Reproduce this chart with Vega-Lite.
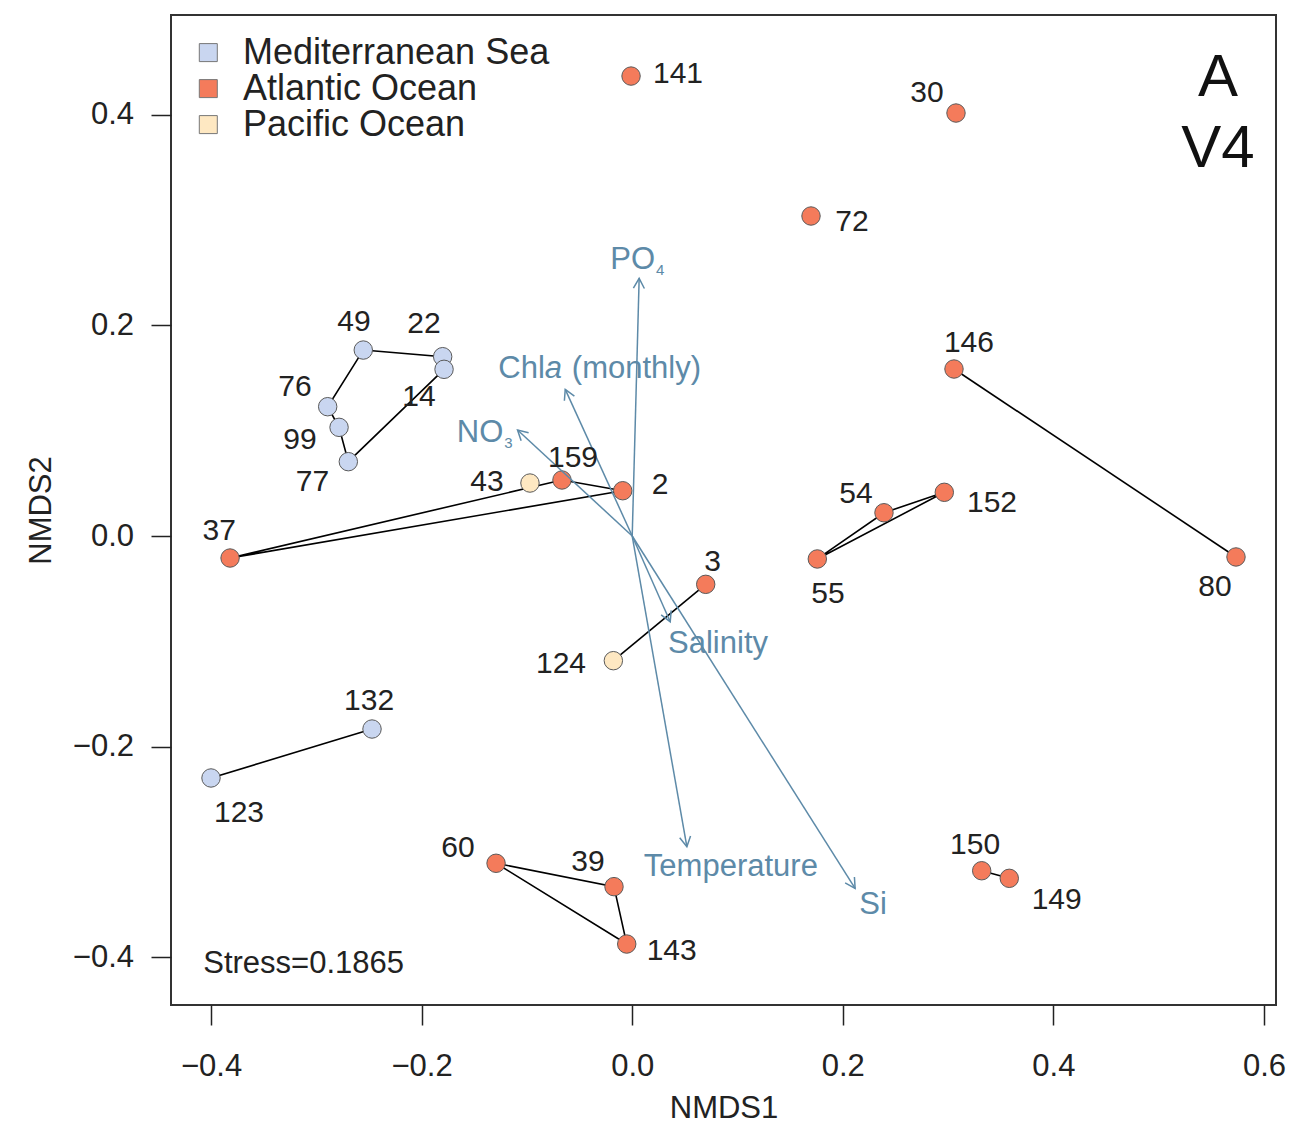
{
  "$schema": "https://vega.github.io/schema/vega-lite/v6.json",
  "width": 1105,
  "height": 990,
  "autosize": {"type": "none"},
  "padding": {"left": 171, "top": 15, "right": 16, "bottom": 120},
  "background": "white",
  "config": {
    "view": {"stroke": "#333", "strokeWidth": 2},
    "font": "Liberation Sans",
    "axis": {
      "domain": false,
      "grid": false,
      "tickColor": "#222",
      "tickWidth": 1.5,
      "tickSize": 20,
      "labelFont": "Liberation Sans",
      "labelFontSize": 31,
      "labelColor": "#222",
      "titleFont": "Liberation Sans",
      "titleFontSize": 31,
      "titleFontWeight": "normal",
      "titleColor": "#222",
      "labelOverlap": false,
      "labelFlush": false
    }
  },
  "datasets": {
    "sites": [
      {"site": 141, "region": "Atlantic Ocean", "NMDS1": -0.0011, "NMDS2": 0.4368},
      {"site": 30, "region": "Atlantic Ocean", "NMDS1": 0.3075, "NMDS2": 0.4017},
      {"site": 72, "region": "Atlantic Ocean", "NMDS1": 0.1698, "NMDS2": 0.3039},
      {"site": 146, "region": "Atlantic Ocean", "NMDS1": 0.3056, "NMDS2": 0.1586},
      {"site": 80, "region": "Atlantic Ocean", "NMDS1": 0.5734, "NMDS2": -0.0199},
      {"site": 152, "region": "Atlantic Ocean", "NMDS1": 0.2964, "NMDS2": 0.0415},
      {"site": 54, "region": "Atlantic Ocean", "NMDS1": 0.2391, "NMDS2": 0.0221},
      {"site": 55, "region": "Atlantic Ocean", "NMDS1": 0.1758, "NMDS2": -0.0218},
      {"site": 3, "region": "Atlantic Ocean", "NMDS1": 0.0698, "NMDS2": -0.0459},
      {"site": 2, "region": "Atlantic Ocean", "NMDS1": -0.009, "NMDS2": 0.043},
      {"site": 159, "region": "Atlantic Ocean", "NMDS1": -0.0667, "NMDS2": 0.0532},
      {"site": 43, "region": "Pacific Ocean", "NMDS1": -0.0971, "NMDS2": 0.0503},
      {"site": 37, "region": "Atlantic Ocean", "NMDS1": -0.3819, "NMDS2": -0.0209},
      {"site": 124, "region": "Pacific Ocean", "NMDS1": -0.0179, "NMDS2": -0.1184},
      {"site": 132, "region": "Mediterranean Sea", "NMDS1": -0.2471, "NMDS2": -0.1833},
      {"site": 123, "region": "Mediterranean Sea", "NMDS1": -0.4, "NMDS2": -0.2298},
      {"site": 60, "region": "Atlantic Ocean", "NMDS1": -0.1293, "NMDS2": -0.3108},
      {"site": 39, "region": "Atlantic Ocean", "NMDS1": -0.0173, "NMDS2": -0.333},
      {"site": 143, "region": "Atlantic Ocean", "NMDS1": -0.0052, "NMDS2": -0.3875},
      {"site": 150, "region": "Atlantic Ocean", "NMDS1": 0.3319, "NMDS2": -0.3179},
      {"site": 149, "region": "Atlantic Ocean", "NMDS1": 0.3581, "NMDS2": -0.3251},
      {"site": 49, "region": "Mediterranean Sea", "NMDS1": -0.2554, "NMDS2": 0.1766},
      {"site": 22, "region": "Mediterranean Sea", "NMDS1": -0.18, "NMDS2": 0.1703},
      {"site": 14, "region": "Mediterranean Sea", "NMDS1": -0.1787, "NMDS2": 0.1583},
      {"site": 76, "region": "Mediterranean Sea", "NMDS1": -0.2892, "NMDS2": 0.1228},
      {"site": 99, "region": "Mediterranean Sea", "NMDS1": -0.2784, "NMDS2": 0.1032},
      {"site": 77, "region": "Mediterranean Sea", "NMDS1": -0.2696, "NMDS2": 0.0706}
    ],
    "siteLabels": [
      {"site": 141, "NMDS1": 0.0435, "NMDS2": 0.4406},
      {"site": 30, "NMDS1": 0.28, "NMDS2": 0.4226},
      {"site": 72, "NMDS1": 0.2087, "NMDS2": 0.3001},
      {"site": 146, "NMDS1": 0.3198, "NMDS2": 0.1852},
      {"site": 80, "NMDS1": 0.5534, "NMDS2": -0.0465},
      {"site": 152, "NMDS1": 0.3417, "NMDS2": 0.0332},
      {"site": 54, "NMDS1": 0.2125, "NMDS2": 0.0421},
      {"site": 55, "NMDS1": 0.1859, "NMDS2": -0.0529},
      {"site": 3, "NMDS1": 0.0763, "NMDS2": -0.0228},
      {"site": 2, "NMDS1": 0.0264, "NMDS2": 0.0503},
      {"site": 159, "NMDS1": -0.0562, "NMDS2": 0.076},
      {"site": 43, "NMDS1": -0.1379, "NMDS2": 0.0532},
      {"site": 37, "NMDS1": -0.3922, "NMDS2": 0.0066},
      {"site": 124, "NMDS1": -0.0676, "NMDS2": -0.1197},
      {"site": 132, "NMDS1": -0.2499, "NMDS2": -0.1548},
      {"site": 123, "NMDS1": -0.3734, "NMDS2": -0.2612},
      {"site": 60, "NMDS1": -0.1654, "NMDS2": -0.2944},
      {"site": 39, "NMDS1": -0.042, "NMDS2": -0.3077},
      {"site": 143, "NMDS1": 0.0375, "NMDS2": -0.3922},
      {"site": 150, "NMDS1": 0.3256, "NMDS2": -0.2915},
      {"site": 149, "NMDS1": 0.4031, "NMDS2": -0.3438},
      {"site": 49, "NMDS1": -0.2642, "NMDS2": 0.2051},
      {"site": 22, "NMDS1": -0.1977, "NMDS2": 0.2035},
      {"site": 14, "NMDS1": -0.2025, "NMDS2": 0.1339},
      {"site": 76, "NMDS1": -0.3202, "NMDS2": 0.1434},
      {"site": 99, "NMDS1": -0.3155, "NMDS2": 0.0935},
      {"site": 77, "NMDS1": -0.3036, "NMDS2": 0.0532}
    ],
    "hulls": [
      {"group": 1, "order": 1, "site": 49},
      {"group": 1, "order": 2, "site": 22},
      {"group": 1, "order": 3, "site": 14},
      {"group": 1, "order": 4, "site": 77},
      {"group": 1, "order": 5, "site": 99},
      {"group": 1, "order": 6, "site": 76},
      {"group": 1, "order": 7, "site": 49},
      {"group": 2, "order": 1, "site": 37},
      {"group": 2, "order": 2, "site": 159},
      {"group": 2, "order": 3, "site": 2},
      {"group": 2, "order": 4, "site": 37},
      {"group": 3, "order": 1, "site": 3},
      {"group": 3, "order": 2, "site": 124},
      {"group": 4, "order": 1, "site": 132},
      {"group": 4, "order": 2, "site": 123},
      {"group": 5, "order": 1, "site": 60},
      {"group": 5, "order": 2, "site": 39},
      {"group": 5, "order": 3, "site": 143},
      {"group": 5, "order": 4, "site": 60},
      {"group": 6, "order": 1, "site": 55},
      {"group": 6, "order": 2, "site": 54},
      {"group": 6, "order": 3, "site": 152},
      {"group": 6, "order": 4, "site": 55},
      {"group": 7, "order": 1, "site": 146},
      {"group": 7, "order": 2, "site": 80},
      {"group": 8, "order": 1, "site": 150},
      {"group": 8, "order": 2, "site": 149}
    ],
    "vectors": [
      {"variable": "PO4", "NMDS1": 0.0066, "NMDS2": 0.2447},
      {"variable": "Chla (monthly)", "NMDS1": -0.0636, "NMDS2": 0.1393},
      {"variable": "NO3", "NMDS1": -0.1089, "NMDS2": 0.1007},
      {"variable": "Salinity", "NMDS1": 0.0361, "NMDS2": -0.0814},
      {"variable": "Temperature", "NMDS1": 0.0519, "NMDS2": -0.2951},
      {"variable": "Si", "NMDS1": 0.2117, "NMDS2": -0.3346}
    ],
    "vectorLabels": [
      {"text": "PO", "part": "name", "NMDS1": 0.0217, "NMDS2": 0.254},
      {"text": "4", "part": "subscript", "NMDS1": 0.0217, "NMDS2": 0.254},
      {"text": "NO", "part": "name", "NMDS1": -0.1224, "NMDS2": 0.0896},
      {"text": "3", "part": "subscript", "NMDS1": -0.1224, "NMDS2": 0.0896},
      {"text": "Chl", "part": "name", "NMDS1": -0.083, "NMDS2": 0.1498},
      {"text": "a", "part": "italic", "NMDS1": -0.083, "NMDS2": 0.1498},
      {"text": "(monthly)", "part": "suffix", "NMDS1": -0.083, "NMDS2": 0.1498},
      {"text": "Salinity", "part": "plain", "NMDS1": 0.0815, "NMDS2": -0.1007},
      {"text": "Temperature", "part": "plain", "NMDS1": 0.0937, "NMDS2": -0.3124},
      {"text": "Si", "part": "plain", "NMDS1": 0.2287, "NMDS2": -0.3485}
    ],
    "annotations": [
      {"text": "A", "part": "panel", "NMDS1": 0.5563, "NMDS2": 0.4387},
      {"text": "V4", "part": "panel", "NMDS1": 0.5563, "NMDS2": 0.3713},
      {"text": "Stress=0.1865", "part": "stress", "NMDS1": -0.4074, "NMDS2": -0.4046}
    ]
  },
  "encoding": {
    "x": {
      "field": "NMDS1",
      "type": "quantitative",
      "scale": {"domain": [-0.438, 0.6114], "nice": false, "zero": false},
      "axis": {
        "values": [-0.4, -0.2, 0, 0.2, 0.4, 0.6],
        "format": ".1f",
        "title": "NMDS1",
        "labelPadding": 26,
        "titleY": 112,
        "titleBaseline": "alphabetic"
      }
    },
    "y": {
      "field": "NMDS2",
      "type": "quantitative",
      "scale": {"domain": [-0.4454, 0.4948], "nice": false, "zero": false},
      "axis": {
        "values": [-0.4, -0.2, 0, 0.2, 0.4],
        "format": ".1f",
        "title": "NMDS2",
        "labelPadding": 17.5,
        "titleX": -121,
        "titleY": 495,
        "titleAngle": 270,
        "titleBaseline": "alphabetic",
        "titleAlign": "center"
      }
    }
  },
  "layer": [
    {
      "data": {"name": "hulls"},
      "transform": [
        {"lookup": "site", "from": {"data": {"name": "sites"}, "key": "site", "fields": ["NMDS1", "NMDS2"]}}
      ],
      "mark": {"type": "line", "color": "#000", "strokeWidth": 1.6},
      "encoding": {
        "detail": {"field": "group", "type": "nominal"},
        "order": {"field": "order", "type": "quantitative"}
      }
    },
    {
      "data": {"name": "sites"},
      "mark": {"type": "point", "shape": "circle", "filled": true, "size": 340, "opacity": 1, "stroke": "#5a5a5a", "strokeWidth": 1},
      "encoding": {
        "color": {
          "field": "region",
          "type": "nominal",
          "scale": {
            "domain": ["Mediterranean Sea", "Atlantic Ocean", "Pacific Ocean"],
            "range": ["#c9d6f0", "#f47b5b", "#fee8c2"]
          },
          "legend": {
            "title": null,
            "orient": "none",
            "legendX": 19.3,
            "legendY": 19.6,
            "symbolType": "square",
            "symbolSize": 324,
            "symbolStrokeColor": "#777",
            "symbolStrokeWidth": 1,
            "symbolOpacity": 1,
            "labelFont": "Liberation Sans",
            "labelFontSize": 36,
            "labelColor": "#222",
            "labelLimit": 600,
            "labelOffset": 16.7,
            "rowPadding": -1,
            "padding": 0
          }
        }
      }
    },
    {
      "data": {"name": "vectors"},
      "mark": {"type": "rule", "color": "#5d8aa8", "strokeWidth": 1.5},
      "encoding": {
        "x2": {"datum": 0},
        "y2": {"datum": 0}
      }
    },
    {
      "data": {"name": "vectors"},
      "transform": [
        {"calculate": "atan2(datum.NMDS1, datum.NMDS2) * 180 / PI", "as": "headAngle"}
      ],
      "mark": {"type": "point", "shape": "M -0.55 1 L 0 0 L 0.55 1", "filled": false, "size": 400, "opacity": 1, "stroke": "#5d8aa8", "strokeWidth": 1.5},
      "encoding": {
        "angle": {"field": "headAngle", "type": "quantitative", "scale": null}
      }
    },
    {
      "data": {"name": "siteLabels"},
      "mark": {"type": "text", "font": "Liberation Sans", "fontSize": 30, "color": "#222", "align": "center", "baseline": "middle", "dy": 2},
      "encoding": {
        "text": {"field": "site", "type": "nominal"}
      }
    },
    {
      "data": {"name": "vectorLabels"},
      "transform": [{"filter": "datum.part === 'plain'"}],
      "mark": {"type": "text", "font": "Liberation Sans", "fontSize": 31, "color": "#5d8aa8", "align": "center", "baseline": "middle", "dy": 2},
      "encoding": {"text": {"field": "text", "type": "nominal"}}
    },
    {
      "data": {"name": "vectorLabels"},
      "transform": [{"filter": "datum.part === 'name'"}],
      "mark": {"type": "text", "font": "Liberation Sans", "fontSize": 31, "color": "#5d8aa8", "align": "right", "baseline": "alphabetic"},
      "encoding": {"text": {"field": "text", "type": "nominal"}}
    },
    {
      "data": {"name": "vectorLabels"},
      "transform": [{"filter": "datum.part === 'subscript'"}],
      "mark": {"type": "text", "font": "Liberation Sans", "fontSize": 15, "color": "#5d8aa8", "align": "left", "baseline": "alphabetic", "dx": 1, "dy": 6},
      "encoding": {"text": {"field": "text", "type": "nominal"}}
    },
    {
      "data": {"name": "vectorLabels"},
      "transform": [{"filter": "datum.part === 'italic'"}],
      "mark": {"type": "text", "font": "Liberation Sans", "fontSize": 31, "fontStyle": "italic", "color": "#5d8aa8", "align": "left", "baseline": "alphabetic"},
      "encoding": {"text": {"field": "text", "type": "nominal"}}
    },
    {
      "data": {"name": "vectorLabels"},
      "transform": [{"filter": "datum.part === 'suffix'"}],
      "mark": {"type": "text", "font": "Liberation Sans", "fontSize": 31, "color": "#5d8aa8", "align": "left", "baseline": "alphabetic", "dx": 27},
      "encoding": {"text": {"field": "text", "type": "nominal"}}
    },
    {
      "data": {"name": "annotations"},
      "transform": [{"filter": "datum.part === 'panel'"}],
      "mark": {"type": "text", "font": "Liberation Sans", "fontSize": 60, "color": "#111", "align": "center", "baseline": "middle", "dy": 3.5},
      "encoding": {"text": {"field": "text", "type": "nominal"}}
    },
    {
      "data": {"name": "annotations"},
      "transform": [{"filter": "datum.part === 'stress'"}],
      "mark": {"type": "text", "font": "Liberation Sans", "fontSize": 31, "color": "#222", "align": "left", "baseline": "middle", "dy": 2},
      "encoding": {"text": {"field": "text", "type": "nominal"}}
    }
  ]
}
